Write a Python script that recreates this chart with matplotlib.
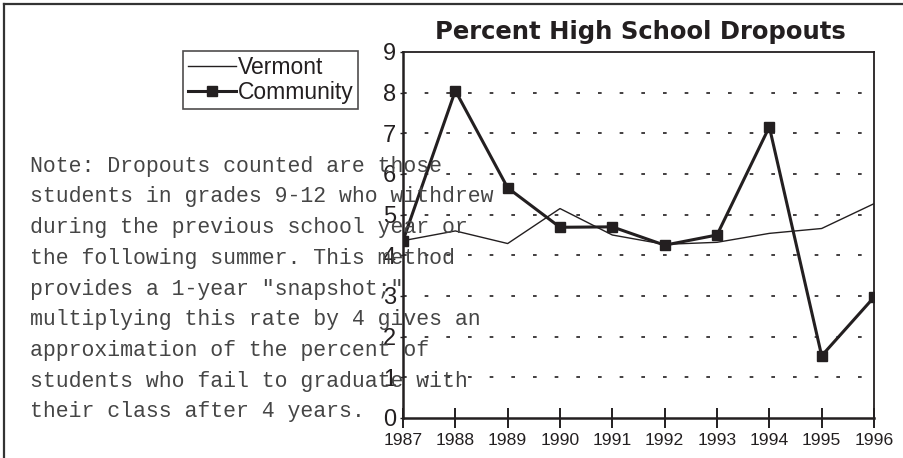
import matplotlib
matplotlib.use("Agg")
import matplotlib.pyplot as plt
from matplotlib.lines import Line2D

years = [1987, 1988, 1989, 1990, 1991, 1992, 1993, 1994, 1995, 1996]
vermont = [4.36, 4.60, 4.29, 5.15, 4.50, 4.27, 4.32, 4.54, 4.66, 5.27]
community = [4.36, 8.05, 5.66, 4.69, 4.70, 4.25, 4.50, 7.16, 1.53, 2.97]
yticks = [0, 1, 2, 3, 4, 5, 6, 7, 8, 9]

note_lines = [
	'Note: Dropouts counted are those',
	'students in grades 9-12 who withdrew',
	'during the previous school year or',
	'the following summer. This method',
	'provides a 1-year "snapshot;"',
	'multiplying this rate by 4 gives an',
	'approximation of the percent of',
	'students who fail to graduate with',
	'their class after 4 years.',
]

ink = '#231f20'
W, H = 904, 458

fig = plt.figure(figsize=(W / 100, H / 100), dpi=100)
fig.patch.set_facecolor('white')

# outer frame (only top and left edges visible)
fig.add_artist(Line2D([4 / W, 4 / W], [0, 1 - 4 / H], color='#333333', lw=1.6, transform=fig.transFigure))
fig.add_artist(Line2D([4 / W, 1], [1 - 4 / H, 1 - 4 / H], color='#333333', lw=1.6, transform=fig.transFigure))

ax = fig.add_axes([403 / W, 1 - 418 / H, (874 - 403) / W, (418 - 52) / H])
ax.set_facecolor('none')

ax.plot(years, vermont, color=ink, lw=1.0, label='Vermont', zorder=3)
ax.plot(years, community, color=ink, lw=2.2, marker='s', markersize=6.5, label='Community', zorder=4)

ax.set_xlim(1987, 1996)
ax.set_ylim(0, 9)
ax.set_xticks(years)
ax.set_xticklabels([str(y) for y in years], family='Liberation Sans', fontsize=12.6, color=ink)
ax.set_yticks(yticks)
ax.set_yticklabels([str(v) for v in yticks], family='Liberation Sans', fontsize=17, color=ink)

for v in yticks[1:-1]:
	ax.axhline(v, color=ink, lw=1.2, linestyle=(0, (2.2, 10.8)), zorder=1)

ax.tick_params(axis='x', direction='inout', length=14, width=1.4, color=ink, pad=4)
ax.tick_params(axis='y', direction='out', length=2, width=1.0, color=ink, pad=3)
for side in ['left', 'bottom']:
	ax.spines[side].set_linewidth(1.8)
	ax.spines[side].set_color(ink)
for side in ['top', 'right']:
	ax.spines[side].set_linewidth(1.3)
	ax.spines[side].set_color(ink)

fig.text(640 / W, 1 - 32 / H, 'Percent High School Dropouts', ha='center', va='center',
	fontsize=17.5, fontweight='bold', family='DejaVu Sans', color=ink)

leg = ax.legend(loc='upper left', bbox_to_anchor=(183 / W, 1 - 51 / H), bbox_transform=fig.transFigure,
	prop={'family': 'Liberation Sans', 'size': 16.5}, frameon=True, fancybox=False,
	handlelength=2.1, handletextpad=0.1, borderpad=0.2, labelspacing=0.12, borderaxespad=0)
leg.get_frame().set_edgecolor(ink)
leg.get_frame().set_linewidth(1.2)
for t in leg.get_texts():
	t.set_color(ink)

for i, line in enumerate(note_lines):
	fig.text(30 / W, 1 - (166 + i * 30.75) / H, line, ha='left', va='center',
		fontsize=15.5, family='Liberation Mono', color='#454545', zorder=5)

fig.savefig('out.png', dpi=100)
